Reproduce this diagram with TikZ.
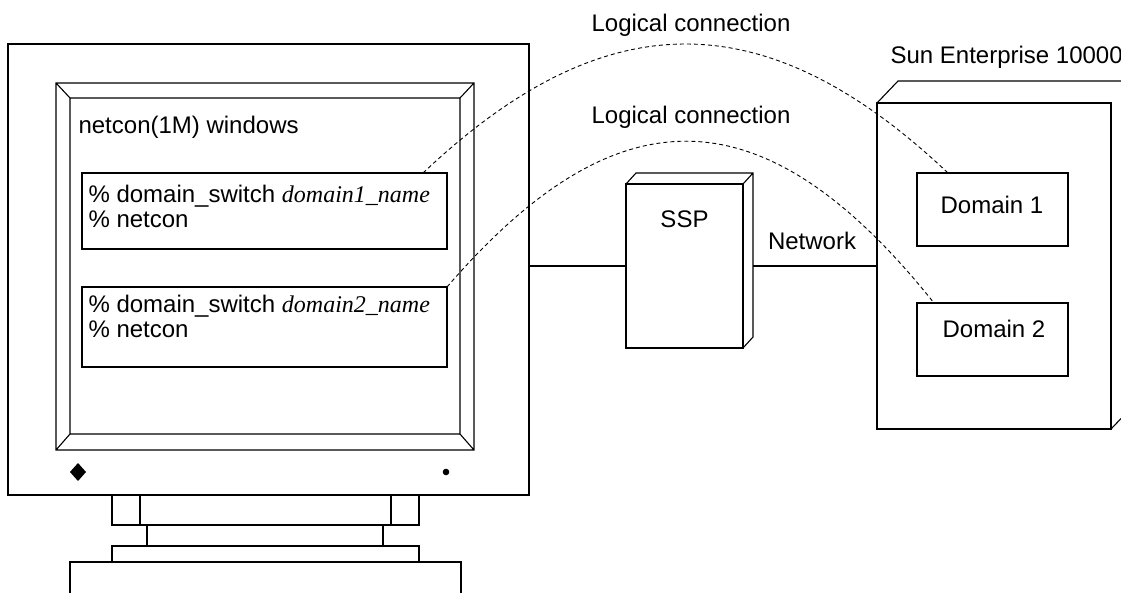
\documentclass[tikz,border=0pt]{standalone}
\usepackage{fontspec}
\setmainfont{Liberation Sans}
\newfontfamily\timesfont{Liberation Serif}
\usetikzlibrary{positioning}

\begin{document}
\begin{tikzpicture}[x=1pt, y=-1pt, line width=1.1pt,
    font=\fontsize{24}{24.5}\selectfont,
    frame/.style={draw, inner sep=0pt, outer sep=0pt, anchor=north west},
    txt/.style={inner sep=0pt, anchor=base west},
    lbl/.style={inner sep=0pt, anchor=base},
    link/.style={draw, line width=0.9pt, dash pattern=on 4pt off 3pt},
    net/.style={draw, line width=2.5pt}]
  \useasboundingbox (0,0) rectangle (1121,592);

  % monitor
  \node[frame, minimum width=521pt, minimum height=451pt] (monitor) at (8,44) {};
  \draw (56,83) rectangle (474,450) (70,98) rectangle (460,434)
        (56,83) -- (70,98) (474,83) -- (460,98)
        (56,450) -- (70,434) (474,450) -- (460,434);
  \fill (78,463) -- (86,472) -- (78,481) -- (70,472) -- cycle;
  \fill (446,472) circle (3.3pt);
  % stand
  \draw (112,495) rectangle (419,525) (140,495) -- (140,525) (391,495) -- (391,525);
  \draw (147,525) rectangle (383,546);
  \draw (112,546) rectangle (419,562);
  \draw (70,600) -- (70,562) -- (461,562) -- (461,600);

  \node[txt] (title) at (78,133) {netcon(1M) windows};

  \node[frame, minimum width=365pt, minimum height=76pt] (cmd1) at (82,173) {};
  \node[txt, align=left] (cmd1txt) at (88,227)
    {\% domain\_switch {\timesfont\itshape domain1\_name}\\\% netcon};
  \node[frame, minimum width=365pt, minimum height=80pt] (cmd2) at (82,287) {};
  \node[txt, align=left] (cmd2txt) at (88,337)
    {\% domain\_switch {\timesfont\itshape domain2\_name}\\\% netcon};

  % SSP
  \node[frame, minimum width=117pt, minimum height=164pt] (ssp) at (626,184) {};
  \draw (ssp.north west) -- ++(10,-11) -- ++(117,0) -- ++(0,164) -- (ssp.south east)
        (ssp.north east) -- ++(10,-11);
  \node[lbl] (ssplbl) at ([yshift=-43pt]ssp.north) {SSP};

  % Sun Enterprise 10000
  \node[frame, minimum width=234pt, minimum height=326pt] (sun) at (877,103) {};
  \draw (sun.north west) -- ++(21,-22) -- ++(260,0)
        (sun.south east) -- ++(21,-22);
  \node[txt] (sunlbl) at (890,63) {Sun Enterprise 10000};

  \node[frame, minimum width=151pt, minimum height=73pt] (dom1) at (917,173) {};
  \node[lbl] (dom1lbl) at (992,213) {Domain 1};
  \node[frame, minimum width=151pt, minimum height=73pt] (dom2) at (917,303) {};
  \node[lbl] (dom2lbl) at (994,337) {Domain 2};

  % network
  \draw[net] (monitor.east |- ssp.west) -- (ssp.west);
  \draw[net] ([xshift=10pt]ssp.east) -- (sun.west);
  \node[lbl] (netlbl) at (812,249) {Network};

  % logical connections
  \draw[link] ([xshift=-24pt]cmd1.north east) .. controls (605,1) and (766,1) .. ([xshift=31pt]dom1.north west);
  \draw[link] (cmd2.north east) .. controls (617,90) and (764,90) .. ([xshift=17pt]dom2.north west);
  \node[lbl] (log1) at (691,31) {Logical connection};
  \node[lbl] (log2) at (691,123) {Logical connection};
\end{tikzpicture}
\end{document}
